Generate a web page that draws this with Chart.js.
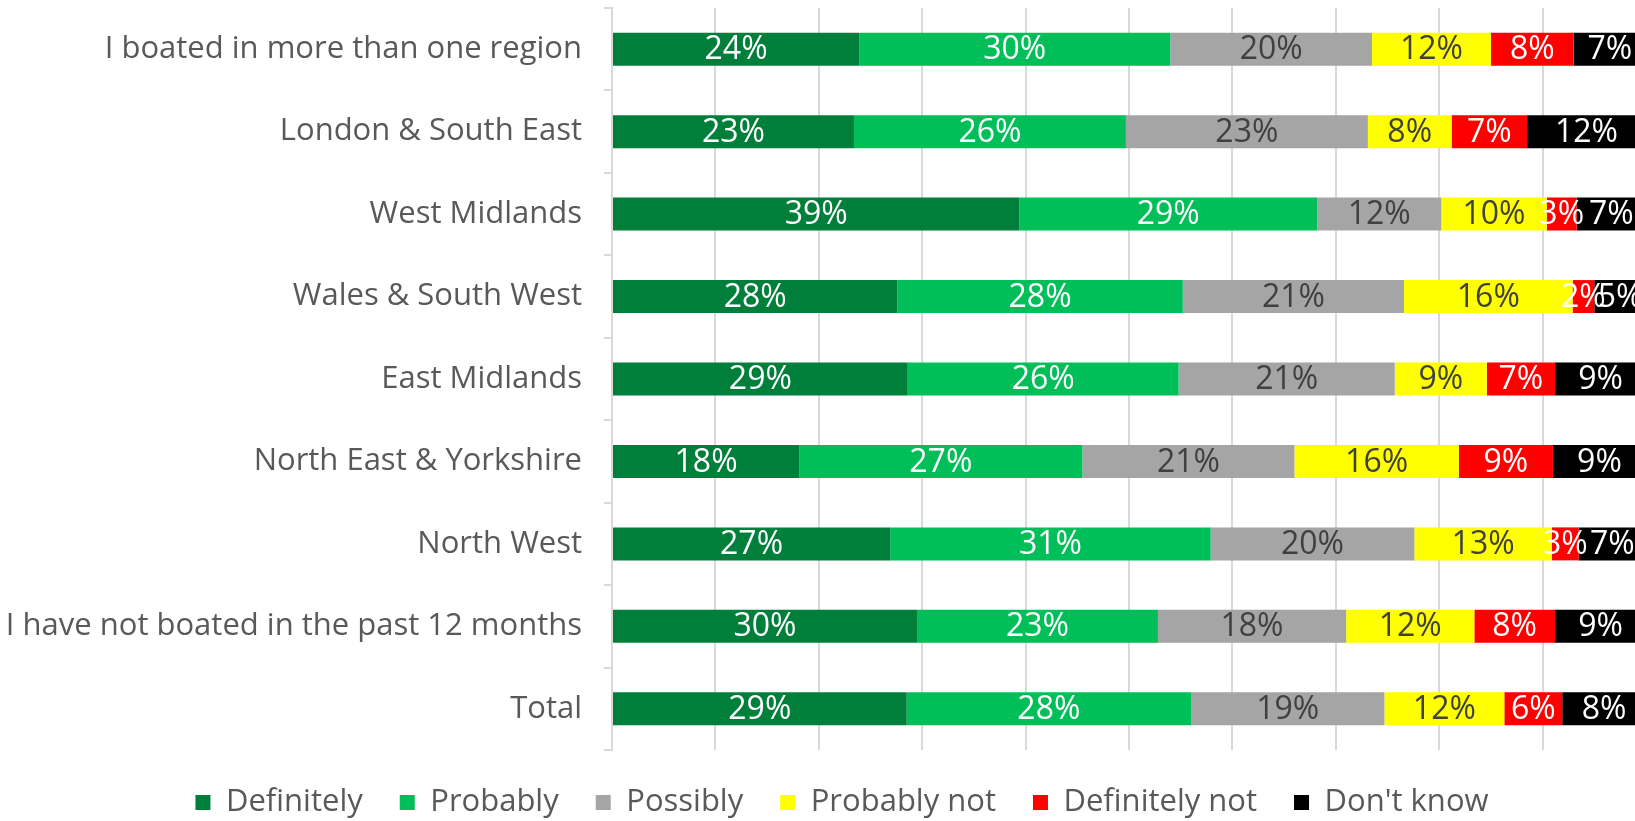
<!DOCTYPE html>
<html>
<head>
<meta charset="utf-8">
<script src="https://cdn.jsdelivr.net/npm/chart.js@4.4.1/dist/chart.umd.min.js"></script>
<style>
  html, body { margin: 0; padding: 0; background: #fff; overflow: hidden; }
  #wrap { position: absolute; left: 0; top: 0; width: 1660px; height: 821px; }
</style>
</head>
<body>
<div id="wrap"><canvas id="chart"></canvas></div>
<script>
const categories = [
  'I boated in more than one region',
  'London & South East',
  'West Midlands',
  'Wales & South West',
  'East Midlands',
  'North East & Yorkshire',
  'North West',
  'I have not boated in the past 12 months',
  'Total',
];

const definitely    = [23.9, 23.4, 39.4, 27.6, 28.6, 18.1, 26.9, 29.5, 28.5];
const probably      = [30.1, 26.3, 28.8, 27.6, 26.2, 27.4, 31.0, 23.3, 27.5];
const possibly      = [19.5, 23.4, 12.0, 21.4, 20.9, 20.5, 19.7, 18.2, 18.7];
const probablyNot   = [11.5,  8.1, 10.2, 16.3,  8.9, 15.9, 13.3, 12.4, 11.6];
const definitelyNot = [ 8.0,  7.3,  2.9,  2.1,  6.6,  9.1,  2.6,  7.8,  5.6];
const dontKnow      = [ 7.0, 11.5,  6.7,  5.0,  8.8,  9.0,  6.5,  8.8,  8.1];

const seriesNames = ['Definitely', 'Probably', 'Possibly', 'Probably not', 'Definitely not', "Don't know"];
const seriesData = [definitely, probably, possibly, probablyNot, definitelyNot, dontKnow];
const seriesColors = ['#007F3B', '#00BF59', '#A5A5A5', '#FFFF00', '#FF0000', '#000000'];
const labelColors = ['#FFFFFF', '#FFFFFF', '#404040', '#404040', '#FFFFFF', '#FFFFFF'];

const FONT = '"Open Sans", "DejaVu Sans", sans-serif';
const GRID = '#D9D9D9';
const PAD_LEFT = 38;

// draws the rounded % inside each segment
const segmentLabels = {
  id: 'segmentLabels',
  afterLayout(chart) {
    // let the long category labels use the left padding instead of being clipped
    chart.scales.y.left = 0;
  },
  afterDatasetsDraw(chart) {
    const { ctx } = chart;
    ctx.save();
    ctx.font = `32px ${FONT}`;
    ctx.textAlign = 'center';
    ctx.textBaseline = 'middle';
    chart.data.datasets.forEach((ds, i) => {
      chart.getDatasetMeta(i).data.forEach((bar, j) => {
        const { x, y, base } = bar.getProps(['x', 'y', 'base'], true);
        ctx.fillStyle = labelColors[i];
        ctx.fillText(`${Math.round(ds.data[j])}%`, (x + base) / 2, y + 1);
      });
    });
    ctx.restore();
  },
};

new Chart(document.getElementById('chart'), {
  type: 'bar',
  data: {
    labels: categories,
    datasets: seriesNames.map((name, i) => ({
      label: name,
      data: seriesData[i],
      backgroundColor: seriesColors[i],
      borderWidth: 0,
      barPercentage: 0.4,
      categoryPercentage: 1,
    })),
  },
  options: {
    indexAxis: 'y',
    responsive: true,
    maintainAspectRatio: false,
    animation: false,
    layout: { padding: { top: 8, right: 14, left: PAD_LEFT, bottom: -7 } },
    plugins: {
      tooltip: { enabled: false },
      legend: {
        position: 'bottom',
        labels: {
          color: '#595959',
          font: { family: FONT, size: 31, lineHeight: 0.6 },
          boxWidth: 15,
          boxHeight: 15,
          padding: 37,
        },
      },
    },
    scales: {
      x: {
        stacked: true,
        min: 0,
        max: 100,
        afterFit: (scale) => { scale.height = 0; },
        ticks: { display: false, stepSize: 10 },
        grid: { color: GRID, lineWidth: 2, drawTicks: false },
        border: { display: false },
      },
      y: {
        stacked: true,
        afterFit: (scale) => {
          scale.width = 612 - PAD_LEFT;
          scale.paddingTop = 0;
          scale.paddingBottom = 0;
        },
        ticks: {
          color: '#595959',
          font: { family: FONT, size: 31 },
          padding: 22,
        },
        grid: { color: GRID, lineWidth: 2, drawOnChartArea: false, tickLength: 8, offset: true },
        border: { color: GRID, width: 2 },
      },
    },
  },
  plugins: [segmentLabels],
});
</script>
</body>
</html>
